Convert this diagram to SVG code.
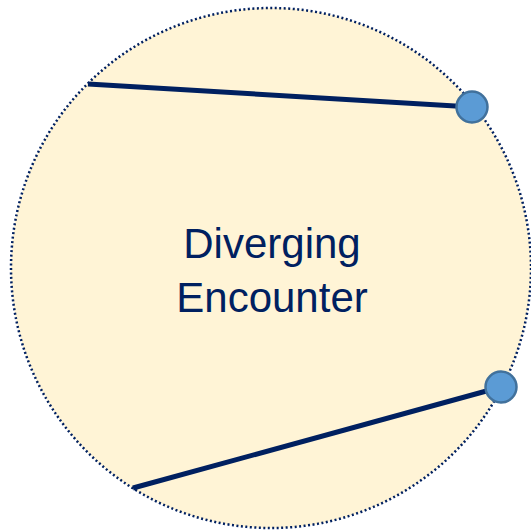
<svg xmlns="http://www.w3.org/2000/svg" width="531" height="531" viewBox="0 0 531 531">
<style>
.zone{fill:#FFF4D6;stroke:#002060;stroke-width:2.5;stroke-dasharray:2 2.5}
.path{stroke:#002060;stroke-width:5;fill:none}
.ac{fill:#5B9BD5;stroke:#41719C;stroke-width:2.5}
.lbl{font-family:"Liberation Sans",Arial,sans-serif;font-size:42px;fill:#002060;text-anchor:middle}
</style>
<g id="zone"><circle class="zone" cx="271" cy="268" r="260"/>
<text class="lbl" x="272" y="258">Diverging</text>
<text class="lbl" x="272" y="312">Encounter</text></g>
<g id="connectors">
<line class="path" x1="88" y1="84" x2="472" y2="107"/>
<line class="path" x1="133" y1="488" x2="501" y2="387"/>
</g>
<g id="aircraft1"><circle class="ac" cx="472" cy="107" r="15.5"/></g>
<g id="aircraft2"><circle class="ac" cx="501" cy="387" r="15.5"/></g>
</svg>
